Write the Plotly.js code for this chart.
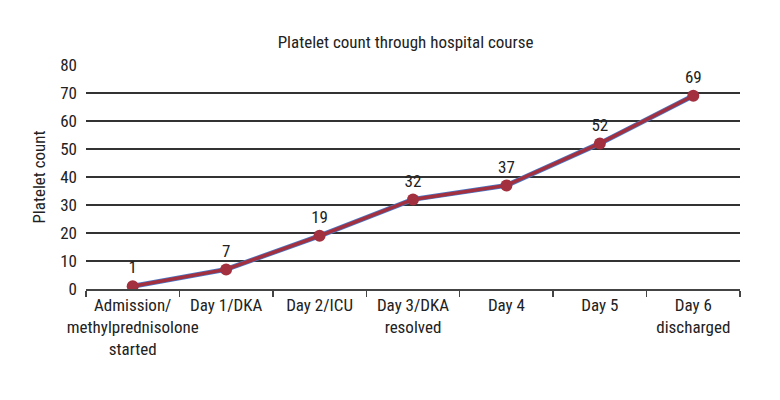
<!DOCTYPE html>
<html><head><meta charset="utf-8">
<script src="https://cdn.plot.ly/plotly-3.0.1.min.js"></script>
<style>body{margin:0;background:#fff}#c{width:780px;height:400px}</style>
</head><body><div id="c"></div>
<script>
const categories = ["Admission/<br>methylprednisolone<br>started","Day 1/DKA","Day 2/ICU","Day 3/DKA<br>resolved","Day 4","Day 5","Day 6<br>discharged"];
const plateletCounts = [1, 7, 19, 32, 37, 52, 69];
const yTicks = [0,10,20,30,40,50,60,70,80];

const fontFam = '"Liberation Sans Narrow", "Roboto Condensed", "DejaVu Sans Condensed", sans-serif';

const traces = [
  {x: categories, y: plateletCounts, type: 'scatter', mode: 'lines',
   line: {color: '#4a78c8', width: 5}, hoverinfo: 'skip', showlegend: false},
  {x: categories, y: plateletCounts, type: 'scatter', mode: 'lines+markers+text',
   line: {color: '#a3303f', width: 3.5},
   marker: {color: '#a3303f', size: 12},
   text: plateletCounts.map(String), textposition: 'top center',
   textfont: {family: fontFam, size: 17, color: '#222'},
   showlegend: false}
];

const layout = {
  width: 780, height: 400,
  margin: {l: 86, r: 40, t: 65, b: 111},
  paper_bgcolor: '#fff', plot_bgcolor: '#fff',
  font: {family: fontFam, size: 17, color: '#222'},
  title: {text: 'Platelet count through hospital course', x: 0.52, xanchor: 'center', y: 0.895, yanchor: 'middle',
          font: {family: fontFam, size: 17, color: '#222'}},
  xaxis: {type: 'category', range: [-0.5, 6.5], tickson: 'boundaries', ticks: 'outside', ticklen: 6,
          tickangle: 0, automargin: false,
          tickcolor: '#444', tickwidth: 1.5, showline: true, linecolor: '#444', linewidth: 1.5,
          showgrid: false, zeroline: false, tickfont: {family: fontFam, size: 17, color: '#222'}},
  yaxis: {range: [0, 80], tickvals: yTicks, showgrid: true, gridcolor: '#333', gridwidth: 1.5,
          zeroline: false, showline: false, ticks: '', ticklen: 0, automargin: false, ticklabelstandoff: 8,
          tickfont: {family: fontFam, size: 17, color: '#222'},
          title: {text: 'Platelet count', standoff: 10, font: {family: fontFam, size: 17, color: '#222'}}}
};

Plotly.newPlot('c', traces, layout, {staticPlot: true, displayModeBar: false});
</script></body></html>
